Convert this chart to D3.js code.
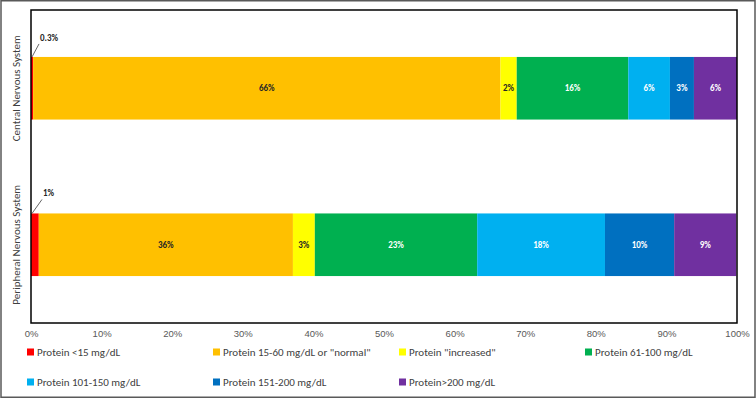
<!DOCTYPE html>
<html>
<head>
<meta charset="utf-8">
<script src="https://cdn.jsdelivr.net/npm/d3@7"></script>
<style>
  html, body { margin: 0; padding: 0; background: #fff; }
  svg { display: block; font-family: Calibri, Carlito, "Liberation Sans", Arial, sans-serif; }
  .tick-lbl { font-size: 9.5px; fill: #595959; }
  .cat-lbl  { font-size: 11px; fill: #404040; }
  .leg-lbl  { font-size: 11px; fill: #404040; }
  .val-lbl  { font-size: 9px; font-weight: bold; }
</style>
</head>
<body>
<svg id="chart" width="756" height="399"></svg>
<script>
// ── Data ─────────────────────────────────────────────────────────────────────
const categories = ["Central Nervous System", "Peripheral Nervous System"];
const seriesNames = [
  "Protein <15 mg/dL",
  "Protein 15-60 mg/dL or \"normal\"",
  "Protein \"increased\"",
  "Protein 61-100 mg/dL",
  "Protein 101-150 mg/dL",
  "Protein 151-200 mg/dL",
  "Protein>200 mg/dL"
];
const seriesColors = ["#FF0000", "#FFC000", "#FFFF00", "#00B050", "#00B0F0", "#0070C0", "#7030A0"];
// percentage shares per category, in series order
const cnsValues = [0.3, 66.2, 2.3, 15.8, 5.9, 3.4, 6.1];
const pnsValues = [1.1, 36.0, 3.1, 23.0, 18.1, 9.8, 8.8];
const cnsLabels = ["0.3%", "66%", "2%", "16%", "6%", "3%", "6%"];
const pnsLabels = ["1%", "36%", "3%", "23%", "18%", "10%", "9%"];
const xTicks = [0, 10, 20, 30, 40, 50, 60, 70, 80, 90, 100];

// ── Layout ───────────────────────────────────────────────────────────────────
const W = 756, H = 399;
const plot = { left: 31, top: 10, right: 737, bottom: 323 };
const svg = d3.select("#chart");

// outer chart border
svg.append("rect")
  .attr("x", 1).attr("y", 0.75).attr("width", W - 2).attr("height", H - 2.5)
  .attr("fill", "none").attr("stroke", "#595959").attr("stroke-width", 1.5);

const x = d3.scaleLinear().domain([0, 100]).range([plot.left, plot.right]);
const y = d3.scaleBand().domain(categories).range([plot.top, plot.bottom]);
const barH = y.bandwidth() * 0.4;

// ── Stacked bars ────────────────────────────────────────────────────────────
const rows = [
  { cat: categories[0], values: cnsValues, labels: cnsLabels },
  { cat: categories[1], values: pnsValues, labels: pnsLabels }
];
const segs = [];
rows.forEach(r => {
  let acc = 0;
  r.values.forEach((v, i) => {
    segs.push({ cat: r.cat, i, x0: acc, x1: acc + v, label: r.labels[i] });
    acc += v;
  });
});

const gBars = svg.append("g");
gBars.selectAll("rect")
  .data(segs)
  .join("rect")
  .attr("x", d => x(d.x0))
  .attr("width", d => x(d.x1) - x(d.x0))
  .attr("y", d => y(d.cat) + (y.bandwidth() - barH) / 2)
  .attr("height", barH)
  .attr("fill", d => seriesColors[d.i]);

// ── Value labels ────────────────────────────────────────────────────────────
const darkText = new Set([1, 2]);
gBars.selectAll("text.val-lbl")
  .data(segs.filter(d => d.i > 0))
  .join("text")
  .attr("class", "val-lbl")
  .attr("x", d => (x(d.x0) + x(d.x1)) / 2)
  .attr("y", d => y(d.cat) + y.bandwidth() / 2)
  .attr("dy", "0.35em")
  .attr("text-anchor", "middle")
  .attr("fill", d => darkText.has(d.i) ? "#262626" : "#FFFFFF")
  .text(d => d.label);

// callouts for the tiny first segment
const callouts = segs.filter(d => d.i === 0);
callouts.forEach((d, k) => {
  const barTop = y(d.cat) + (y.bandwidth() - barH) / 2;
  const lx = k === 0 ? 39 : 42;
  const ly = barTop - (k === 0 ? 13 : 14);
  svg.append("line")
    .attr("x1", x(d.x0) + 1).attr("y1", barTop)
    .attr("x2", lx).attr("y2", ly)
    .attr("stroke", "#404040").attr("stroke-width", 0.8);
  svg.append("text")
    .attr("class", "val-lbl")
    .attr("x", lx + 1).attr("y", ly - 3)
    .attr("fill", "#262626")
    .text(d.label);
});

// ── Plot frame ───────────────────────────────────────────────────────────────
svg.append("rect")
  .attr("x", plot.left).attr("y", plot.top)
  .attr("width", plot.right - plot.left).attr("height", plot.bottom - plot.top)
  .attr("fill", "none").attr("stroke", "#000").attr("stroke-width", 1.5);

// ── X axis labels ────────────────────────────────────────────────────────────
const xAxis = d3.axisBottom(x).tickValues(xTicks).tickSize(0).tickPadding(0)
  .tickFormat(d => d + "%");
const gx = svg.append("g").attr("transform", `translate(0,${plot.bottom + 7})`).call(xAxis);
gx.select(".domain").remove();
gx.selectAll("text").attr("class", "tick-lbl").attr("font-family", null).attr("font-size", null)
  .attr("fill", null).attr("dy", "0.71em");

// ── Category labels (rotated) ───────────────────────────────────────────────
svg.selectAll("text.cat-lbl")
  .data(categories)
  .join("text")
  .attr("class", "cat-lbl")
  .attr("transform", d => `translate(20,${y(d) + y.bandwidth() / 2}) rotate(-90)`)
  .attr("text-anchor", "middle")
  .text(d => d);

// ── Legend ──────────────────────────────────────────────────────────────────
const legCols = 4, legX0 = 27, legStep = 186, legY0 = 352, legRowH = 30;
const leg = svg.append("g").selectAll("g")
  .data(seriesNames)
  .join("g")
  .attr("transform", (d, i) =>
    `translate(${legX0 + (i % legCols) * legStep},${legY0 + Math.floor(i / legCols) * legRowH})`);
leg.append("rect")
  .attr("x", 0).attr("y", -3.5).attr("width", 7).attr("height", 7)
  .attr("fill", (d, i) => seriesColors[i]);
leg.append("text")
  .attr("class", "leg-lbl")
  .attr("x", 10).attr("dy", "0.35em")
  .text(d => d);
</script>
</body>
</html>
